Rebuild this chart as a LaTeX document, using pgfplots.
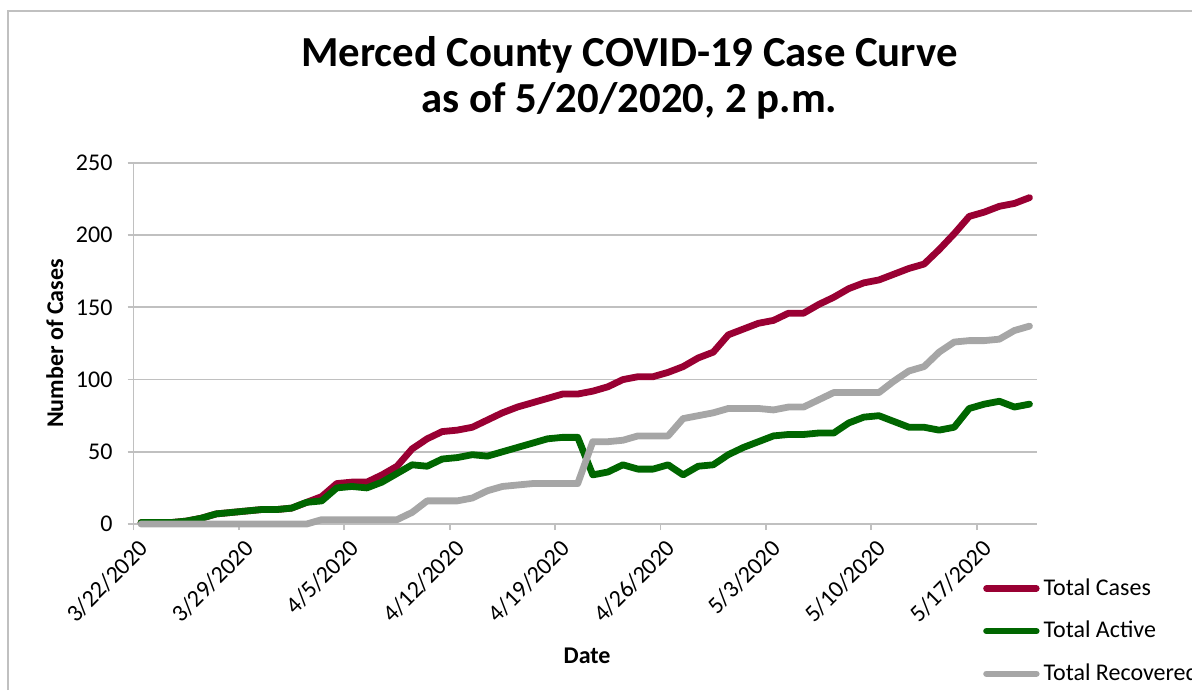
\documentclass[border=0pt]{standalone}
\usepackage{pgfplots}
\usepackage{pgfplotstable}
\pgfplotsset{compat=1.18}
\usepackage{fontspec}
\setmainfont{Carlito}
\definecolor{casesc}{HTML}{990033}
\definecolor{activec}{HTML}{006600}
\definecolor{recc}{HTML}{A6A6A6}
\definecolor{gridc}{HTML}{C0C0C0}
\pgfplotstableread{
x cases active rec
0.5 1 1 0
1.5 1 1 0
2.5 1 1 0
3.5 2 2 0
4.5 4 4 0
5.5 7 7 0
6.5 8 8 0
7.5 9 9 0
8.5 10 10 0
9.5 10 10 0
10.5 11 11 0
11.5 15 15 0
12.5 19 16 3
13.5 28 25 3
14.5 29 26 3
15.5 29 25 3
16.5 34 29 3
17.5 40 35 3
18.5 52 41 8
19.5 59 40 16
20.5 64 45 16
21.5 65 46 16
22.5 67 48 18
23.5 72 47 23
24.5 77 50 26
25.5 81 53 27
26.5 84 56 28
27.5 87 59 28
28.5 90 60 28
29.5 90 60 28
30.5 92 34 57
31.5 95 36 57
32.5 100 41 58
33.5 102 38 61
34.5 102 38 61
35.5 105 41 61
36.5 109 34 73
37.5 115 40 75
38.5 119 41 77
39.5 131 48 80
40.5 135 53 80
41.5 139 57 80
42.5 141 61 79
43.5 146 62 81
44.5 146 62 81
45.5 152 63 86
46.5 157 63 91
47.5 163 70 91
48.5 167 74 91
49.5 169 75 91
50.5 173 71 99
51.5 177 67 106
52.5 180 67 109
53.5 190 65 119
54.5 201 67 126
55.5 213 80 127
56.5 216 83 127
57.5 220 85 128
58.5 222 81 134
59.5 226 83 137
}\datatable
\begin{document}
\begin{tikzpicture}
\useasboundingbox (0,0) rectangle (596pt,345pt);
\draw[line width=1pt, color=gridc] (4pt,0pt) -- (4pt,339.5pt) -- (596pt,339.5pt);
\node[font=\fontsize{21.4}{25}\selectfont\bfseries, align=center] at (314.75pt,306pt) {Merced County COVID-19 Case Curve\\[-2pt] as of 5/20/2020, 2 p.m.};
\begin{axis}[
  at={(66.75pt,83pt)}, anchor=south west,
  scale only axis, width=451.75pt, height=180.5pt,
  xmin=0, xmax=60, ymin=0, ymax=250,
  ytick={0,50,...,250},
  xtick={0,7,...,56},
  xticklabels={3/22/2020,3/29/2020,4/5/2020,4/12/2020,4/19/2020,4/26/2020,5/3/2020,5/10/2020,5/17/2020},
  ymajorgrids, grid style={gridc, line width=0.9pt},
  axis x line=bottom, axis y line=left,
  axis line style={-, gridc, line width=0.9pt},
  tick style={gridc, line width=0.9pt},
  major tick length=3pt, tick align=outside,
  /pgf/number format/assume math mode=true,
  ticklabel style={font=\fontsize{12}{14}\selectfont},
  yticklabel style={xshift=-4pt},
  xticklabel style={rotate=45, anchor=north east, xshift=2pt, yshift=-1pt},
  ylabel={Number of Cases},
  ylabel style={font=\fontsize{12}{14}\selectfont\bfseries, at={(axis description cs:-0.087,0.5)}, anchor=center},
  xlabel={Date},
  xlabel style={font=\fontsize{12}{14}\selectfont\bfseries, at={(axis description cs:0.502,-0.366)}, anchor=center},
  legend style={at={(0.94,-0.139)}, anchor=north west, draw=none, fill=none, font=\fontsize{12}{14}\selectfont, row sep=7.5pt, inner sep=0pt, /tikz/every even column/.append style={column sep=1pt}},
  legend cell align=left,
  legend image code/.code={\draw[#1, line width=3.2pt] (0pt,0pt) -- (25pt,0pt);},
  clip=false,
]
\addplot[casesc, line width=3.4pt, line join=round, line cap=round] table[x=x, y=cases] {\datatable};
\addlegendentry{Total Cases}
\addplot[activec, line width=3.4pt, line join=round, line cap=round] table[x=x, y=active] {\datatable};
\addlegendentry{Total Active}
\addplot[recc, line width=3.4pt, line join=round, line cap=round] table[x=x, y=rec] {\datatable};
\addlegendentry{Total Recovered}
\end{axis}
\end{tikzpicture}
\end{document}
